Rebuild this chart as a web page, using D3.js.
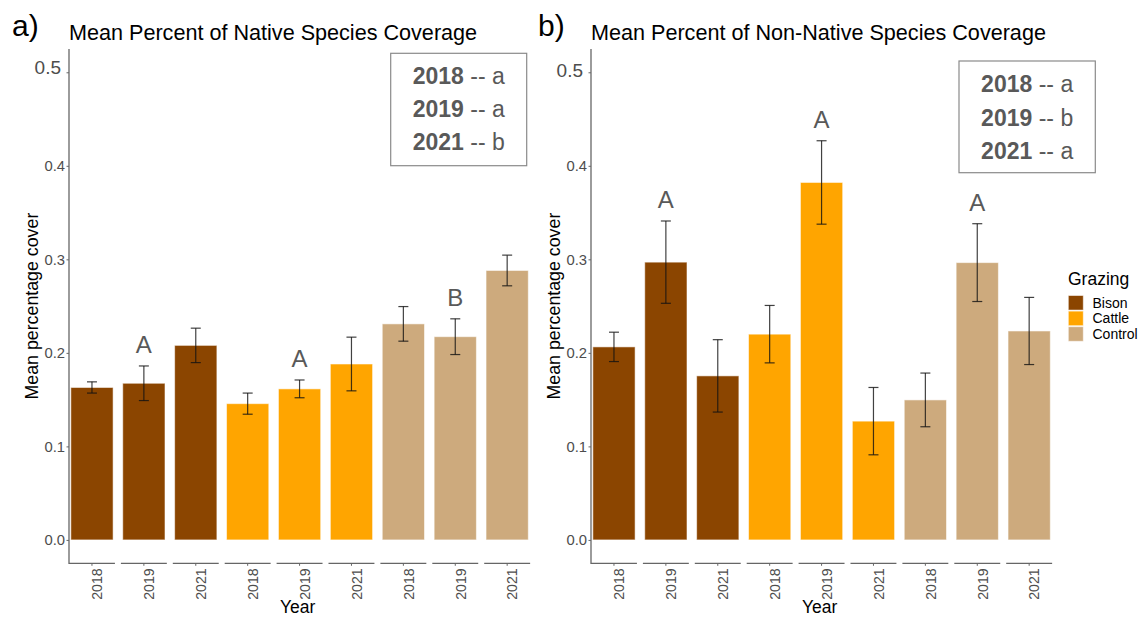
<!DOCTYPE html>
<html>
<head>
<meta charset="utf-8">
<script src="https://cdn.jsdelivr.net/npm/d3@7"></script>
<style>
  html, body { margin: 0; padding: 0; background: #fff; }
  svg { display: block; font-family: "Liberation Sans", Arial, Helvetica, sans-serif; }
</style>
</head>
<body>
<svg id="chart" width="1141" height="618"></svg>
<script>
// ---------------- DATA ----------------
const grazing = ["Bison", "Bison", "Bison", "Cattle", "Cattle", "Cattle", "Control", "Control", "Control"];
const years   = ["2018", "2019", "2021", "2018", "2019", "2021", "2018", "2019", "2021"];

const nativeMean = [0.163, 0.1675, 0.208, 0.1457, 0.1615, 0.1881, 0.231, 0.2173, 0.2881];
const nativeErr  = [0.006, 0.0185, 0.0184, 0.0113, 0.0095, 0.0287, 0.0185, 0.0191, 0.0164];
const nativeLetters = ["", "A", "", "", "A", "", "", "B", ""];

const nonNativeMean = [0.2064, 0.297, 0.1754, 0.22, 0.3822, 0.127, 0.1497, 0.2965, 0.2234];
const nonNativeErr  = [0.0157, 0.044, 0.0387, 0.0307, 0.0446, 0.036, 0.0287, 0.0416, 0.0359];
const nonNativeLetters = ["", "A", "", "", "A", "", "", "A", ""];

const nativeYearGroups    = [["2018", "a"], ["2019", "a"], ["2021", "b"]];
const nonNativeYearGroups = [["2018", "a"], ["2019", "b"], ["2021", "a"]];

const yTicks = [0.0, 0.1, 0.2, 0.3, 0.4, 0.5];
const legendLabels = ["Bison", "Cattle", "Control"];
const legendColors = ["#8B4500", "#FFA500", "#CDAA7D"];

const titles = ["Mean Percent of Native Species Coverage", "Mean Percent of Non-Native Species Coverage"];
const tags = ["a)", "b)"];

// ---------------- DRAW ----------------
const svg = d3.select("#chart");
const color = d3.scaleOrdinal().domain(legendLabels).range(legendColors);
const y = d3.scaleLinear().domain([-0.025, 0.525]).range([563.3, 48.9]);
const axisGray = "#666666";
const textGray = "#4d4d4d";

const panels = [
  { x0: 69, tagX: 12, mean: nativeMean, err: nativeErr, letters: nativeLetters,
    groups: nativeYearGroups, box: { x: 390.7, y: 53.3, w: 136, h: 112.4, b0: 84, step: 33 },
    title: titles[0], tag: tags[0], top5Shift: -5 },
  { x0: 591, tagX: 538, mean: nonNativeMean, err: nonNativeErr, letters: nonNativeLetters,
    groups: nonNativeYearGroups, box: { x: 959, y: 61, w: 136.3, h: 111.7, b0: 92.3, step: 33.3 },
    title: titles[1], tag: tags[1], top5Shift: -2 }
];

const step = 51.9;
const pin = 0.115;

panels.forEach((p, pi) => {
  const g = svg.append("g");
  const idx = d3.range(grazing.length);
  const x = d3.scaleBand().domain(idx).range([p.x0, p.x0 + step * (idx.length - pin)]).paddingInner(pin).paddingOuter(0);
  const barW = x.bandwidth() * 0.92;

  // tag and title
  svg.append("text").attr("x", p.tagX).attr("y", 36).attr("font-size", 30).attr("fill", "#000").text(p.tag);
  svg.append("text").attr("x", p.x0).attr("y", 40).attr("font-size", 21.6).attr("fill", "#000").text(p.title);

  // bars
  g.selectAll("rect.bar").data(idx).join("rect")
    .attr("class", "bar")
    .attr("x", i => x(i) + x.bandwidth() / 2 - barW / 2)
    .attr("width", barW)
    .attr("y", i => y(p.mean[i]))
    .attr("height", i => y(0) - y(p.mean[i]))
    .attr("fill", i => color(grazing[i]))
    .attr("stroke", "#ffffff").attr("stroke-opacity", 0.55).attr("stroke-width", 1);

  // error bars
  const eg = g.selectAll("g.err").data(idx).join("g").attr("class", "err")
    .attr("stroke", "#111").attr("stroke-opacity", 0.8).attr("stroke-width", 1.2);
  eg.append("line")
    .attr("x1", i => x(i) + x.bandwidth() / 2).attr("x2", i => x(i) + x.bandwidth() / 2)
    .attr("y1", i => y(p.mean[i] + p.err[i])).attr("y2", i => y(p.mean[i] - p.err[i]));
  eg.append("line")
    .attr("x1", i => x(i) + x.bandwidth() / 2 - 5).attr("x2", i => x(i) + x.bandwidth() / 2 + 5)
    .attr("y1", i => y(p.mean[i] + p.err[i])).attr("y2", i => y(p.mean[i] + p.err[i]));
  eg.append("line")
    .attr("x1", i => x(i) + x.bandwidth() / 2 - 5).attr("x2", i => x(i) + x.bandwidth() / 2 + 5)
    .attr("y1", i => y(p.mean[i] - p.err[i])).attr("y2", i => y(p.mean[i] - p.err[i]));

  // significance letters
  g.selectAll("text.letter").data(idx.filter(i => p.letters[i])).join("text")
    .attr("class", "letter")
    .attr("x", i => x(i) + x.bandwidth() / 2)
    .attr("y", i => y(p.mean[i] + p.err[i]) - 13)
    .attr("text-anchor", "middle").attr("font-size", 24).attr("fill", "#595959")
    .text(i => p.letters[i]);

  // y axis
  const ya = g.append("g").attr("transform", `translate(${p.x0},0)`)
    .call(d3.axisLeft(y).tickValues(yTicks).tickFormat(d3.format(".1f")).tickSize(2.5).tickPadding(1.5).tickSizeOuter(0));
  ya.select(".domain").remove();
  ya.selectAll(".tick line").attr("stroke", axisGray).attr("stroke-width", 1);
  ya.selectAll(".tick text").attr("fill", textGray).attr("font-size", 14.8)
    .attr("font-family", "Liberation Sans, Arial, sans-serif");
  ya.selectAll(".tick text").filter(d => d === 0.5)
    .attr("font-size", 19).attr("x", -8).attr("dy", "0.32em")
    .attr("transform", `translate(0,${p.top5Shift})`);
  g.append("line").attr("x1", p.x0).attr("x2", p.x0).attr("y1", y.range()[1]).attr("y2", y.range()[0] + 0.6)
    .attr("stroke", axisGray).attr("stroke-width", 1.3);

  // x axis segments
  g.selectAll("line.seg").data(idx).join("line").attr("class", "seg")
    .attr("x1", i => x(i)).attr("x2", i => x(i) + x.bandwidth())
    .attr("y1", y.range()[0]).attr("y2", y.range()[0])
    .attr("stroke", axisGray).attr("stroke-width", 1.3);
  g.selectAll("line.xt").data(idx).join("line").attr("class", "xt")
    .attr("x1", i => x(i) + x.bandwidth() / 2).attr("x2", i => x(i) + x.bandwidth() / 2)
    .attr("y1", y.range()[0]).attr("y2", y.range()[0] + 2.5)
    .attr("stroke", axisGray).attr("stroke-width", 1);
  g.selectAll("text.xl").data(idx).join("text").attr("class", "xl")
    .attr("transform", i => `translate(${x(i) + x.bandwidth() / 2},${y.range()[0] + 5}) rotate(-90)`)
    .attr("text-anchor", "end").attr("y", 10.3)
    .attr("font-size", 14.2).attr("fill", textGray)
    .text(i => years[i]);

  // axis titles
  const xc = (x.range()[0] + x.range()[1]) / 2;
  g.append("text").attr("x", xc - 2).attr("y", 613).attr("text-anchor", "middle")
    .attr("font-size", 17.5).attr("fill", "#000").text("Year");
  const yc = (y.range()[0] + y.range()[1]) / 2;
  g.append("text").attr("transform", `translate(${p.x0 - 31},${yc}) rotate(-90)`)
    .attr("text-anchor", "middle").attr("font-size", 17.8).attr("fill", "#000").text("Mean percentage cover");

  // year group box
  const b = p.box;
  g.append("rect").attr("x", b.x).attr("y", b.y).attr("width", b.w).attr("height", b.h)
    .attr("fill", "#fff").attr("stroke", "#8a8a8a").attr("stroke-width", 1.2);
  p.groups.forEach((gr, k) => {
    const t = g.append("text").attr("x", b.x + b.w / 2).attr("y", b.b0 + k * b.step)
      .attr("text-anchor", "middle").attr("font-size", 23).attr("fill", "#595959")
      .attr("xml:space", "preserve");
    t.append("tspan").attr("font-weight", "bold").text(gr[0]);
    t.append("tspan").text(" -- " + gr[1]);
  });
});

// legend
const lg = svg.append("g");
lg.append("text").attr("x", 1068).attr("y", 285).attr("font-size", 17.5).attr("fill", "#000").text("Grazing");
legendLabels.forEach((lab, k) => {
  lg.append("rect").attr("x", 1068.3).attr("y", 295.5 + k * 15.6).attr("width", 15).attr("height", 14.6)
    .attr("fill", color(lab)).attr("stroke", "#fff").attr("stroke-opacity", 0.55).attr("stroke-width", 1);
  lg.append("text").attr("x", 1092.5).attr("y", 295.5 + k * 15.6 + 7.3).attr("dy", "0.35em")
    .attr("font-size", 14).attr("fill", "#000").text(lab);
});
</script>
</body>
</html>
